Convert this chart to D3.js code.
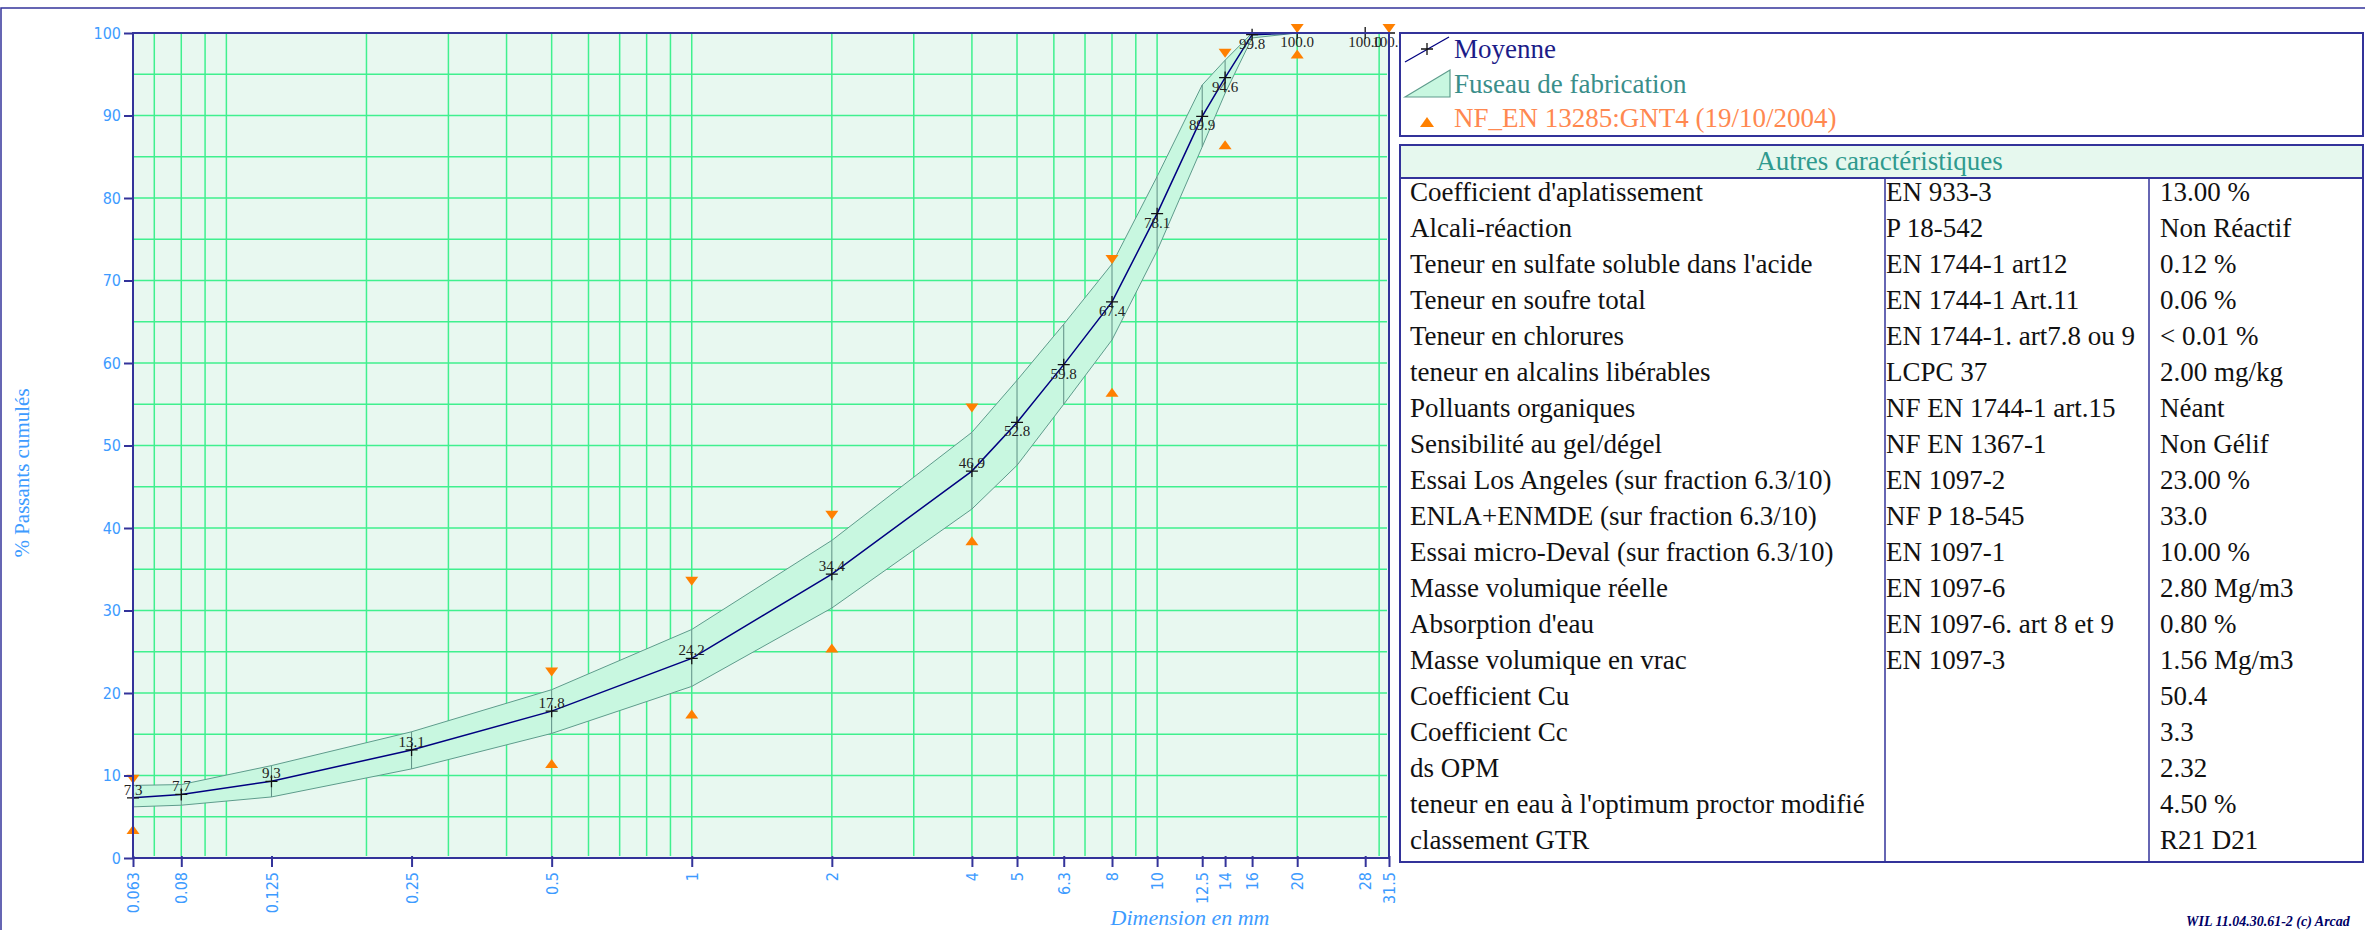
<!DOCTYPE html>
<html>
<head>
<meta charset="utf-8">
<script src="https://cdn.jsdelivr.net/npm/d3@7"></script>
<style>
  html, body { margin: 0; padding: 0; background: #fff; }
  svg { display: block; }
</style>
</head>
<body>
<div id="graph"></div>
<script>
// tamis (mm) et passants moyens
const sieves = [0.063, 0.08, 0.125, 0.25, 0.5, 1, 2, 4, 5, 6.3, 8, 10, 12.5, 14, 16, 20, 28, 31.5];
const meanValues = [7.3, 7.7, 9.3, 13.1, 17.8, 24.2, 34.4, 46.9, 52.8, 59.8, 67.4, 78.1, 89.9, 94.6, 99.8, 100.0, 100.0, 100.0];
// fuseau de fabrication
const bandUpper = [8.8, 8.9, 11.2, 15.3, 20.4, 27.7, 38.5, 51.6, 57.9, 64.7, 72.0, 82.6, 93.7, 96.7, 100, 100, 100, 100];
const bandLower = [6.2, 6.4, 7.4, 10.8, 15.1, 20.8, 30.3, 42.3, 47.6, 55.0, 62.8, 73.6, 86.2, 92.7, 99.4, 100, 100, 100];
// NF_EN 13285:GNT4
const specSieves = [0.063, 0.5, 1, 2, 4, 8, 14, 20, 31.5];
const specMax = [9, 22, 33, 41, 54, 72, 97, 100, 100];
const specMin = [4, 12, 18, 26, 39, 57, 87, 98, null];

const yTickValues = [0, 10, 20, 30, 40, 50, 60, 70, 80, 90, 100];

const legendLabels = ["Moyenne", "Fuseau de fabrication", "NF_EN 13285:GNT4 (19/10/2004)"];

const tableTitle = "Autres caractéristiques";
const tableLabels = [
    "Coefficient d'aplatissement", "Alcali-réaction", "Teneur en sulfate soluble dans l'acide",
    "Teneur en soufre total", "Teneur en chlorures", "teneur en alcalins libérables",
    "Polluants organiques", "Sensibilité au gel/dégel", "Essai Los Angeles (sur fraction 6.3/10)",
    "ENLA+ENMDE (sur fraction 6.3/10)", "Essai micro-Deval (sur fraction 6.3/10)", "Masse volumique réelle",
    "Absorption d'eau", "Masse volumique en vrac", "Coefficient Cu", "Coefficient Cc", "ds OPM",
    "teneur en eau à l'optimum proctor modifié", "classement GTR"
];
const tableNorms = [
    "EN 933-3", "P 18-542", "EN 1744-1 art12", "EN 1744-1 Art.11", "EN 1744-1. art7.8 ou 9",
    "LCPC 37", "NF EN 1744-1 art.15", "NF EN 1367-1", "EN 1097-2", "NF P 18-545", "EN 1097-1",
    "EN 1097-6", "EN 1097-6. art 8 et 9", "EN 1097-3", "", "", "", "", ""
];
const tableValues = [
    "13.00 %", "Non Réactif", "0.12 %", "0.06 %", "< 0.01 %", "2.00 mg/kg", "Néant", "Non Gélif",
    "23.00 %", "33.0", "10.00 %", "2.80 Mg/m3", "0.80 %", "1.56 Mg/m3", "50.4", "3.3", "2.32",
    "4.50 %", "R21 D21"
];

const width = 2365, height = 930;
const navy = "#33339a", lightBlue = "#3d9bff", grid = "#3ff08e";
const serif = "'Times New Roman', 'Liberation Serif', serif";
const sans = "Tahoma, 'DejaVu Sans Condensed', 'Liberation Sans', sans-serif";

const svg = d3.select("#graph")
    .append("svg")
    .attr("width", width)
    .attr("height", height);

// cadre général
svg.append("rect")
    .attr("x", 1).attr("y", 8)
    .attr("width", width + 10).attr("height", height + 10)
    .attr("fill", "none")
    .attr("stroke", navy)
    .attr("stroke-width", 1.5);

const plot = { left: 133, right: 1389, top: 33, bottom: 858 };

const x = d3.scaleLog().domain([0.063, 31.5]).range([plot.left, plot.right]);
const y = d3.scaleLinear().domain([0, 100]).range([plot.bottom, plot.top]);

// fond
svg.append("rect")
    .attr("x", plot.left).attr("y", plot.top)
    .attr("width", plot.right - plot.left).attr("height", plot.bottom - plot.top)
    .attr("fill", "#e8f8f0");

// grille
svg.append("g").selectAll("line")
    .data(x.ticks())
    .enter()
    .append("line")
    .attr("x1", d => x(d)).attr("x2", d => x(d))
    .attr("y1", plot.top).attr("y2", plot.bottom - 2)
    .attr("stroke", grid).attr("stroke-width", 1.5);

svg.append("g").selectAll("line")
    .data(y.ticks(20).filter(d => d > 0 && d < 100))
    .enter()
    .append("line")
    .attr("x1", plot.left).attr("x2", plot.right - 2)
    .attr("y1", d => y(d)).attr("y2", d => y(d))
    .attr("stroke", grid).attr("stroke-width", 1.5);

// fuseau
const bandData = sieves.map((s, i) => ({ s, hi: bandUpper[i], lo: bandLower[i] }));

svg.append("path")
    .datum(bandData)
    .attr("d", d3.area().x(d => x(d.s)).y0(d => y(d.lo)).y1(d => y(d.hi)))
    .attr("fill", "#c8f7e0")
    .attr("stroke", "#5e9c8c")
    .attr("stroke-width", 1);

svg.append("g").selectAll("line")
    .data(bandData)
    .enter()
    .append("line")
    .attr("x1", d => x(d.s)).attr("x2", d => x(d.s))
    .attr("y1", d => y(d.lo)).attr("y2", d => y(d.hi))
    .attr("stroke", "#5e8f84").attr("stroke-width", 1);

// courbe moyenne
const meanData = sieves.map((s, i) => ({ s, v: meanValues[i] }));

svg.append("path")
    .datum(meanData)
    .attr("d", d3.line().x(d => x(d.s)).y(d => y(d.v)))
    .attr("fill", "none")
    .attr("stroke", "#000080")
    .attr("stroke-width", 1.5);

svg.append("g").selectAll("path")
    .data(meanData)
    .enter()
    .append("path")
    .attr("transform", d => `translate(${x(d.s)},${y(d.v)})`)
    .attr("d", "M-6,0H6M0,-6V6")
    .attr("stroke", "#111")
    .attr("stroke-width", 1.3);

svg.append("g").selectAll("text")
    .data(meanData)
    .enter()
    .append("text")
    .attr("x", d => x(d.s))
    .attr("y", d => d.v < 50 ? y(d.v) - 3 : y(d.v) + 14)
    .attr("text-anchor", "middle")
    .attr("font-family", serif)
    .attr("font-size", "15px")
    .attr("fill", "#222")
    .text(d => d.v.toFixed(1));

// limites de la norme
const specData = specSieves.map((s, i) => ({ s, max: specMax[i], min: specMin[i] }));

svg.append("g").selectAll("path")
    .data(specData)
    .enter()
    .append("path")
    .attr("transform", d => `translate(${x(d.s)},${y(d.max)})`)
    .attr("d", "M-6.5,-9L6.5,-9L0,0Z")
    .attr("fill", "#ff8000");

svg.append("g").selectAll("path")
    .data(specData.filter(d => d.min !== null))
    .enter()
    .append("path")
    .attr("transform", d => `translate(${x(d.s)},${y(d.min)})`)
    .attr("d", "M-6.5,9L6.5,9L0,0Z")
    .attr("fill", "#ff8000");

// axes
const xAxis = svg.append("g")
    .attr("transform", `translate(0,${plot.bottom})`)
    .call(d3.axisBottom(x).tickValues(sieves).tickSize(9).tickFormat(d => String(d)));
xAxis.select(".domain").remove();
xAxis.selectAll(".tick line").attr("y1", -2).attr("stroke", navy).attr("stroke-width", 2);
xAxis.selectAll(".tick text")
    .attr("transform", "rotate(-90)")
    .attr("x", -14).attr("y", 0).attr("dy", "0.35em")
    .style("text-anchor", "end")
    .attr("fill", lightBlue)
    .attr("font-family", sans)
    .attr("font-size", "16px");

const yAxis = svg.append("g")
    .attr("transform", `translate(${plot.left},0)`)
    .call(d3.axisLeft(y).tickValues(yTickValues).tickSize(9));
yAxis.select(".domain").remove();
yAxis.selectAll(".tick line").attr("stroke", navy).attr("stroke-width", 2);
yAxis.selectAll(".tick text")
    .attr("fill", lightBlue)
    .attr("font-family", sans)
    .attr("font-size", "16px");

svg.append("rect")
    .attr("x", plot.left).attr("y", plot.top)
    .attr("width", plot.right - plot.left).attr("height", plot.bottom - plot.top)
    .attr("fill", "none")
    .attr("stroke", navy)
    .attr("stroke-width", 2);

svg.append("text")
    .attr("transform", "translate(29,473) rotate(-90)")
    .attr("text-anchor", "middle")
    .attr("font-family", serif)
    .attr("font-size", "21px")
    .attr("fill", lightBlue)
    .text("% Passants cumulés");

svg.append("text")
    .attr("x", 1190).attr("y", 925)
    .attr("text-anchor", "middle")
    .attr("font-family", serif)
    .attr("font-style", "italic")
    .attr("font-size", "22px")
    .attr("fill", lightBlue)
    .text("Dimension en mm");

// légende
const boxLeft = 1400, boxRight = 2363;
const legend = svg.append("g");
legend.append("rect")
    .attr("x", boxLeft).attr("y", 33)
    .attr("width", boxRight - boxLeft).attr("height", 103)
    .attr("fill", "#fff")
    .attr("stroke", navy).attr("stroke-width", 2);
legend.append("line")
    .attr("x1", 1405).attr("y1", 62).attr("x2", 1449).attr("y2", 37)
    .attr("stroke", "#000080").attr("stroke-width", 1.3);
legend.append("path")
    .attr("transform", "translate(1427,49)")
    .attr("d", "M-6,0H6M0,-6V6")
    .attr("stroke", "#111").attr("stroke-width", 1.3);
legend.append("path")
    .attr("d", "M1405,97L1450,70L1450,97Z")
    .attr("fill", "#c8f7e0").attr("stroke", "#5e9c8c").attr("stroke-width", 1.2);
legend.append("path")
    .attr("transform", "translate(1427,117)")
    .attr("d", "M-7,10L7,10L0,0Z")
    .attr("fill", "#ff8000");
legend.selectAll("text.leg")
    .data(legendLabels)
    .enter()
    .append("text")
    .attr("class", "leg")
    .attr("x", 1454)
    .attr("y", (d, i) => 58 + i * 34.7)
    .attr("font-family", serif)
    .attr("font-size", "27px")
    .attr("fill", (d, i) => ["#1c1c88", "#3a8e8a", "#ff8850"][i])
    .text(d => d);

// tableau
const tableTop = 145, headerH = 33, rowH = 36;
const colX = [1410, 1886, 2160];
const colLines = [1885, 2149];
const table = svg.append("g");
const tableBottom = tableTop + headerH + rowH * tableLabels.length;

table.append("rect")
    .attr("x", boxLeft).attr("y", tableTop)
    .attr("width", boxRight - boxLeft).attr("height", headerH)
    .attr("fill", "#e6f8ee");
table.append("text")
    .attr("x", (boxLeft + boxRight) / 2 - 2).attr("y", tableTop + 25)
    .attr("text-anchor", "middle")
    .attr("font-family", serif)
    .attr("font-size", "27px")
    .attr("fill", "#2f9a8e")
    .text(tableTitle);
table.append("line")
    .attr("x1", boxLeft).attr("x2", boxRight)
    .attr("y1", tableTop + headerH).attr("y2", tableTop + headerH)
    .attr("stroke", navy).attr("stroke-width", 2);
table.selectAll("line.col")
    .data(colLines)
    .enter()
    .append("line")
    .attr("class", "col")
    .attr("x1", d => d).attr("x2", d => d)
    .attr("y1", tableTop + headerH).attr("y2", tableBottom)
    .attr("stroke", navy).attr("stroke-width", 1.5);
table.append("rect")
    .attr("x", boxLeft).attr("y", tableTop)
    .attr("width", boxRight - boxLeft).attr("height", tableBottom - tableTop)
    .attr("fill", "none")
    .attr("stroke", navy).attr("stroke-width", 2);

[tableLabels, tableNorms, tableValues].forEach((col, c) => {
    table.append("g").selectAll("text")
        .data(col)
        .enter()
        .append("text")
        .attr("x", colX[c])
        .attr("y", (d, i) => tableTop + headerH + 23 + i * rowH)
        .attr("font-family", serif)
        .attr("font-size", "27px")
        .attr("fill", "#111")
        .text(d => d);
});

svg.append("text")
    .attr("x", 2186).attr("y", 926)
    .attr("font-family", serif)
    .attr("font-style", "italic")
    .attr("font-weight", "bold")
    .attr("font-size", "14px")
    .attr("fill", "#000066")
    .text("WIL 11.04.30.61-2 (c) Arcad");
</script>
</body>
</html>
